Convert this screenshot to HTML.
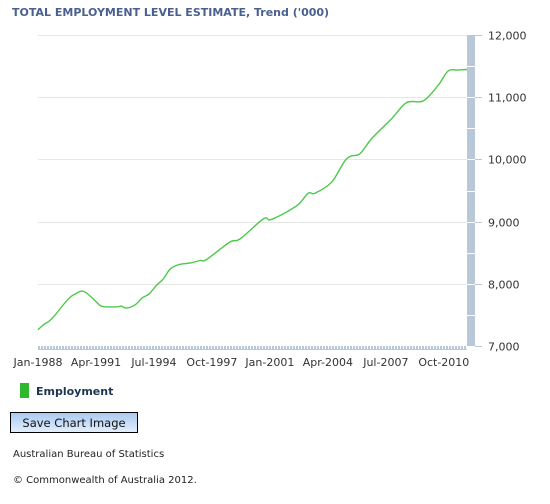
<!DOCTYPE html>
<html><head><meta charset="utf-8"><style>
body{margin:0;background:#fff;width:550px;height:500px;overflow:hidden;font-family:"DejaVu Sans","Liberation Sans",sans-serif;}
</style></head><body>
<svg width="550" height="500" xmlns="http://www.w3.org/2000/svg">
<text x="12" y="16" font-size="11" font-weight="bold" fill="#4a6090">TOTAL EMPLOYMENT LEVEL ESTIMATE, Trend ('000)</text>
<g id="grid"></g>
<g id="xband"></g>
<g id="ybar"></g>
<g id="xlabels"></g>
<g id="ylabels"></g>
<path id="line" fill="none" stroke="#4cc94c" stroke-width="1.4"/>
<rect x="20" y="383" width="9" height="15" fill="#2db82d"/>
<text x="36" y="395" font-size="11" font-weight="bold" fill="#1d3550">Employment</text>
<defs><linearGradient id="bg" x1="0" y1="0" x2="0" y2="1"><stop offset="0" stop-color="#a8c8f0"/><stop offset="1" stop-color="#e4effc"/></linearGradient></defs>
<g>
<rect x="10.5" y="412.5" width="127" height="20" fill="url(#bg)" stroke="#000"/>
<text x="74" y="427" font-size="11.5" text-anchor="middle" fill="#111">Save Chart Image</text>
</g>
<text x="13" y="457" font-size="10" fill="#222">Australian Bureau of Statistics</text>
<text x="13" y="483" font-size="10" fill="#222">© Commonwealth of Australia 2012.</text>
</svg>
<script>
const years=[1988.0,1988.33,1988.63,1989.02,1989.42,1989.81,1990.1,1990.44,1990.7,1991.09,1991.48,1991.78,1992.47,1992.67,1992.96,1993.45,1993.85,1994.24,1994.63,1995.03,1995.42,1995.91,1996.5,1997.09,1997.46,1998.76,1999.32,2000.63,2001.0,2001.75,2002.59,2003.15,2003.53,2004.46,2005.3,2006.05,2006.7,2007.83,2008.67,2009.6,2010.44,2011.0,2011.5,2012.05];
const values=[7262,7348,7401,7519,7663,7786,7840,7882,7856,7759,7652,7631,7631,7642,7610,7663,7775,7840,7973,8080,8241,8310,8332,8374,8392,8672,8720,9043,9027,9124,9274,9457,9457,9634,10011,10092,10334,10656,10914,10941,11194,11425,11435,11445];
const yTicks=[7000,8000,9000,10000,11000,12000];
const yTickLabels=["7,000","8,000","9,000","10,000","11,000","12,000"];
const xTickYears=[1988.0,1991.25,1994.5,1997.75,2001.0,2004.25,2007.5,2010.75];
const xTickLabels=["Jan-1988","Apr-1991","Jul-1994","Oct-1997","Jan-2001","Apr-2004","Jul-2007","Oct-2010"];
const X0=38,X1=467,Y0=346,Y1=35,T0=1988.0,T1=2012.05,V0=7000,V1=12000;
const xs=t=>X0+(t-T0)/(T1-T0)*(X1-X0);
const ys=v=>Y0-(v-V0)/(V1-V0)*(Y0-Y1);
const NS="http://www.w3.org/2000/svg";
function mk(tag,attrs,parent){const e=document.createElementNS(NS,tag);for(const k in attrs)e.setAttribute(k,attrs[k]);parent.appendChild(e);return e;}
const grid=document.getElementById('grid'),ybar=document.getElementById('ybar'),yl=document.getElementById('ylabels');
yTicks.forEach((v,i)=>{
 const y=Math.round(ys(v))+0.5;
 if(v>V0){const g=mk('line',{x1:X0,x2:X1,y1:y,y2:y,stroke:'#e6e6e6'},grid);
 
 }
 const tk=mk('line',{x1:475,x2:482,y1:y,y2:y,stroke:'#b8c8d8'},ybar);
 
 
 const t=mk('text',{x:488,y:y+4,'font-size':11,fill:'#333'},yl);t.textContent=yTickLabels[i];
 
 
});
const bar=mk('rect',{x:467,y:Y1,width:8,height:Y0-Y1,fill:'#b8c8d8'},ybar);


for(let v=7500;v<12000;v+=500){const y=Math.round(ys(v))+0.5;const s=mk('line',{x1:467,x2:475,y1:y,y2:y,stroke:'#fff'},ybar);
 
 }
const xb=document.getElementById('xband');
const band=mk('rect',{x:X0,y:346,width:X1-X0,height:4,fill:'#b8c8d8'},xb);


for(let x=X0+2;x<X1;x+=3){const l=mk('line',{x1:x+0.5,x2:x+0.5,y1:346,y2:349,stroke:'#fff'},xb);
 
 }
const xl=document.getElementById('xlabels');
xTickYears.forEach((t,i)=>{const e=mk('text',{x:xs(t),y:366,'font-size':11,'text-anchor':'middle',fill:'#333'},xl);e.textContent=xTickLabels[i];
 
 });
const pts=years.map((t,i)=>[xs(t),ys(values[i])]);
let d='M'+pts[0][0].toFixed(1)+','+pts[0][1].toFixed(1);
for(let i=0;i<pts.length-1;i++){const p0=pts[Math.max(0,i-1)],p1=pts[i],p2=pts[i+1],p3=pts[Math.min(pts.length-1,i+2)];
 const c1=[p1[0]+(p2[0]-p0[0])/6,p1[1]+(p2[1]-p0[1])/6],c2=[p2[0]-(p3[0]-p1[0])/6,p2[1]-(p3[1]-p1[1])/6];
 d+=' C'+c1.map(n=>n.toFixed(1))+' '+c2.map(n=>n.toFixed(1))+' '+p2.map(n=>n.toFixed(1));}
document.getElementById('line').setAttribute('d',d);
</script>
</body></html>
